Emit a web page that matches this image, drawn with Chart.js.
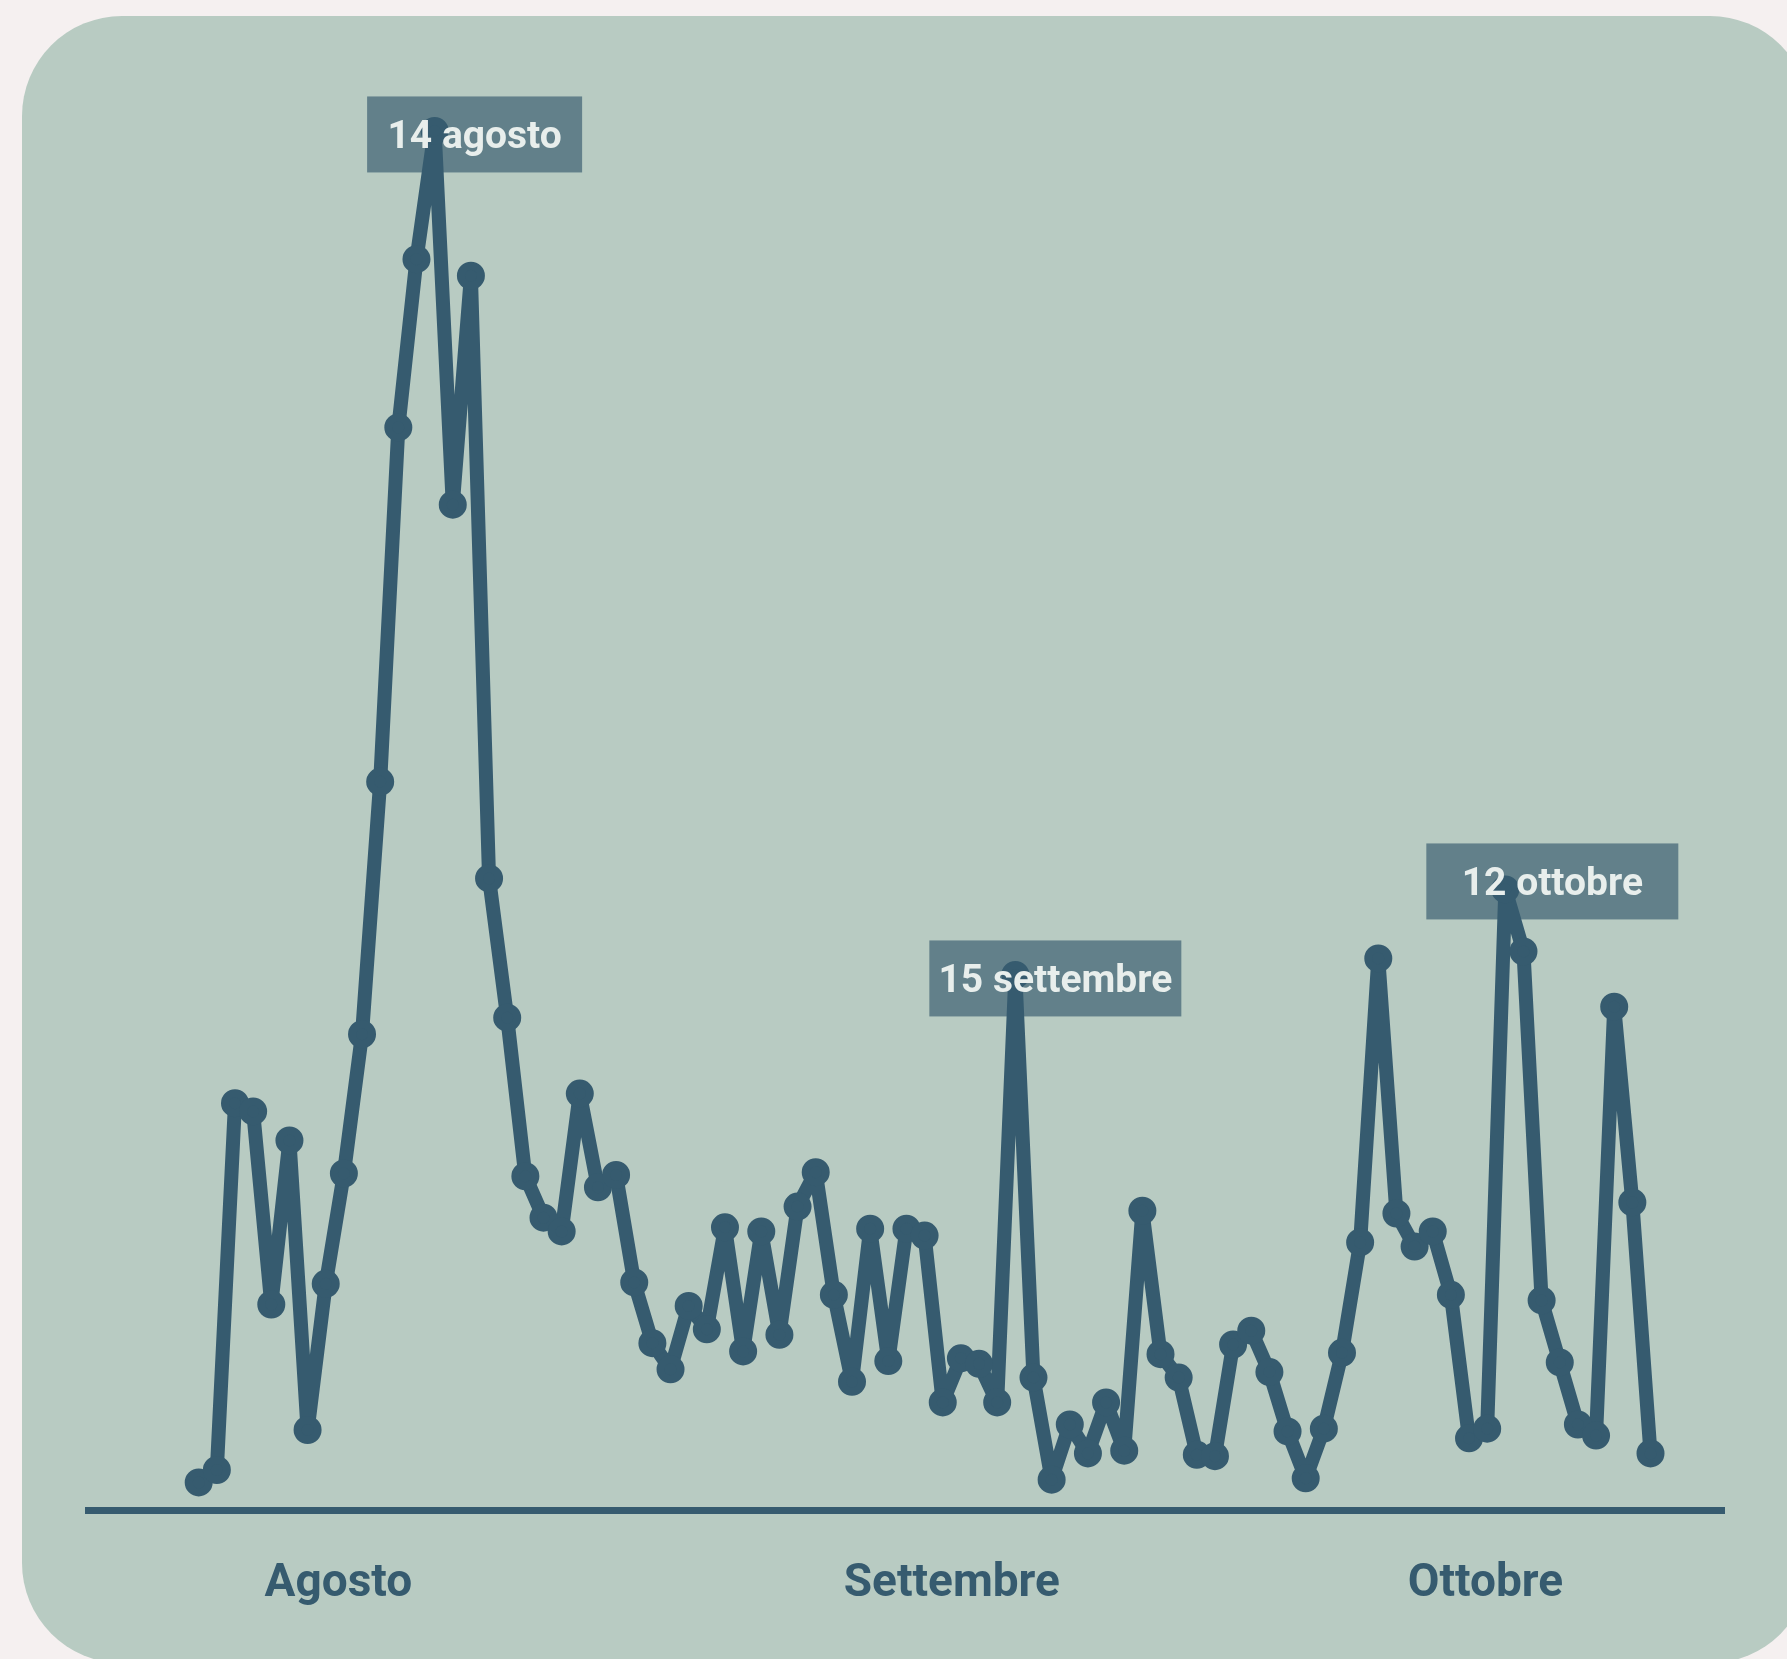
<!DOCTYPE html>
<html lang="it">
<head>
<meta charset="utf-8">
<title>Andamento giornaliero agosto–ottobre</title>
<script src="https://cdn.jsdelivr.net/npm/chart.js@4/dist/chart.umd.min.js"></script>
<style>
  html, body { margin: 0; padding: 0; width: 1787px; height: 1659px; overflow: hidden; background: #f5f0f0; }
  .card {
    position: absolute; left: 22px; top: 16px; width: 1788px; height: 1647px;
    background: #b8cbc2; border-radius: 100px;
  }
  #chart { position: absolute; left: 0; top: 0; }
</style>
</head>
<body>
<div class="card"></div>
<canvas id="chart" width="1787" height="1659"></canvas>
<script>
// Daily values, 1 August to 20 October (index 0 = 1 agosto)
const dailyValues = [
  2.0, 2.9, 29.5, 28.9, 14.9, 26.8, 5.8, 16.4, 24.4, 34.5,
  52.8, 78.5, 90.7, 100, 72.9, 89.5, 45.8, 35.7, 24.2, 21.2,
  20.2, 30.2, 23.4, 24.3, 16.5, 12.1, 10.2, 14.8, 13.1, 20.5,
  11.5, 20.2, 12.7, 22.0, 24.5, 15.6, 9.3, 20.4, 10.8, 20.4,
  19.9, 7.8, 11.0, 10.6, 7.8, 38.8, 9.6, 2.2, 6.2, 4.1,
  7.8, 4.3, 21.7, 11.3, 9.6, 4.0, 3.9, 12.0, 13.0, 10.0,
  5.7, 2.3, 5.9, 11.4, 19.4, 40.0, 21.5, 19.1, 20.2, 15.6,
  5.2, 5.9, 45.0, 40.5, 15.2, 10.7, 6.2, 5.4, 36.5, 22.3,
  4.1
];

// Month names shown under the axis and the day they sit under
const monthLabels = ['Agosto', 'Settembre', 'Ottobre'];
const monthLabelDays = [7.7, 41.5, 70.9];

// Highlighted peaks
const peakDays = [13, 45, 72];
const peakLabels = ['14 agosto', '15 settembre', '12 ottobre'];

const INK = '#365b6f';
const BOX = '#62808a';
const BOX_TEXT = '#e8eeec';

const points = dailyValues.map((v, i) => ({ x: i, y: v }));

// Box geometry for each highlighted peak (width, shifts from the point)
const peakBoxStyle = [
  { width: 215, dx: 40, dy: 3.5 },
  { width: 252, dx: 40, dy: 3.5 },
  { width: 252, dx: 47, dy: -8 }
];

const peakCallouts = {
  id: 'peakCallouts',
  beforeDatasetsDraw(chart) {
    const meta = chart.getDatasetMeta(0);
    const ctx = chart.ctx;
    ctx.save();
    ctx.fillStyle = BOX;
    peakDays.forEach((d, k) => {
      const p = meta.data[d];
      const s = peakBoxStyle[k];
      const cx = p.x + s.dx, cy = p.y + s.dy, h = 76;
      ctx.fillRect(cx - s.width / 2, cy - h / 2, s.width, h);
    });
    ctx.restore();
  },
  afterDatasetsDraw(chart) {
    const meta = chart.getDatasetMeta(0);
    const ctx = chart.ctx;
    ctx.save();
    ctx.fillStyle = BOX_TEXT;
    ctx.font = '700 39px Roboto';
    ctx.textAlign = 'center';
    ctx.textBaseline = 'alphabetic';
    peakDays.forEach((d, k) => {
      const p = meta.data[d];
      const s = peakBoxStyle[k];
      const cx = p.x + s.dx, cy = p.y + s.dy;
      ctx.fillText(peakLabels[k], cx, cy + 39 * 0.711 / 2);
    });
    ctx.restore();
  }
};

new Chart(document.getElementById('chart'), {
  type: 'line',
  data: {
    datasets: [{
      data: points,
      borderColor: INK,
      backgroundColor: INK,
      borderWidth: 14,
      borderJoinStyle: 'round',
      borderCapStyle: 'round',
      tension: 0,
      pointRadius: 10,
      pointBorderWidth: 8,
      pointBackgroundColor: INK,
      pointBorderColor: INK,
      pointHoverRadius: 10,
      fill: false,
      clip: false
    }]
  },
  options: {
    responsive: false,
    devicePixelRatio: 1,
    animation: false,
    events: [],
    layout: { padding: { left: 88, right: 63, top: 62, bottom: 0 } },
    plugins: { legend: { display: false }, tooltip: { enabled: false } },
    scales: {
      x: {
        type: 'linear',
        min: -6.1,
        max: 84.05,
        grid: { display: false, drawTicks: false },
        border: { display: true, color: INK, width: 7 },
        afterFit(scale) { scale.height = 149; },
        afterBuildTicks(scale) { scale.ticks = monthLabelDays.map(v => ({ value: v })); },
        ticks: {
          autoSkip: false,
          maxRotation: 0,
          padding: 47,
          color: INK,
          font: { family: 'Roboto', weight: '700', size: 46 },
          callback: (value, index) => monthLabels[index]
        }
      },
      y: {
        display: false,
        min: 0,
        max: 105
      }
    }
  },
  plugins: [peakCallouts]
});
</script>
</body>
</html>
